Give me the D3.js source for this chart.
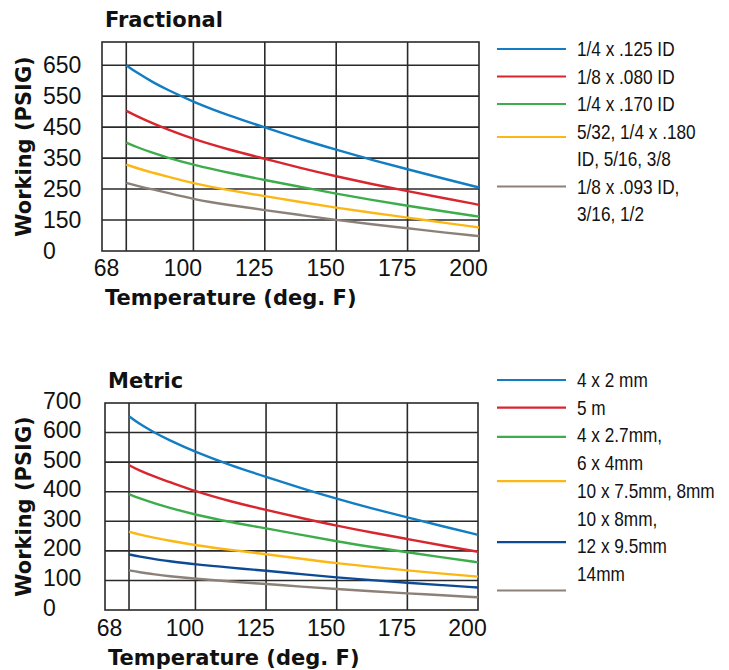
<!DOCTYPE html>
<html><head><meta charset="utf-8">
<script src="https://cdn.jsdelivr.net/npm/d3@7"></script>
<style>
body{margin:0;background:#fff;}
.tick text{font-family:"Liberation Sans",Arial,sans-serif;font-size:23px;fill:#111;}
.title{font-family:"DejaVu Sans",sans-serif;font-weight:bold;font-size:21px;fill:#111;}
.leg{font-family:"Liberation Sans",Arial,sans-serif;font-size:21px;fill:#111;}
</style></head><body>
<svg id="c" width="729" height="670"></svg>
<script>
// ---- data ----
const temps = [76.5, 80, 86, 90, 100, 112.5, 125, 137.5, 150, 162.5, 175, 187.5, 200];
const xTicks = [68, 100, 125, 150, 175, 200];
const fracYTicks = [0, 150, 250, 350, 450, 550, 650];
const metYTicks = [0, 100, 200, 300, 400, 500, 600, 700];

const frac_125ID  = [650, 627, 594, 575, 531, 487, 449, 411, 377, 344, 314, 284, 255];
const frac_080ID  = [503, 486, 461, 446, 411, 377, 348, 318, 291, 266, 243, 221, 199];
const frac_170ID  = [400, 386, 366, 354, 328, 302, 279, 257, 235, 215, 196, 178, 161];
const frac_180ID  = [329, 318, 302, 293, 268, 246, 227, 208, 190, 173, 158, 137, 114];
const frac_093ID  = [270, 261, 248, 240, 217, 198, 182, 166, 150, 129, 110, 90, 72];

const met_4x2     = [655, 630, 597, 578, 534, 489, 450, 412, 376, 343, 313, 283, 254];
const met_5       = [490, 472, 449, 436, 401, 367, 338, 311, 285, 262, 240, 218, 197];
const met_4x27    = [392, 378, 359, 348, 322, 297, 276, 254, 232, 213, 195, 178, 161];
const met_10x75   = [265, 255, 243, 236, 219, 203, 189, 173, 158, 146, 134, 123, 113];
const met_10x8    = [188, 181, 171, 166, 154, 143, 133, 121, 110, 101, 92, 84, 76];
const met_14      = [134, 128, 120, 115, 106, 96, 88, 79, 71, 63, 56, 50, 43];

const fracLabels = [["1/4 x .125 ID"], ["1/8 x .080 ID"], ["1/4 x .170 ID"],
                    ["5/32, 1/4 x .180", "ID, 5/16, 3/8"], ["1/8 x .093 ID,", "3/16, 1/2"]];
const metLabels  = ["4 x 2 mm", "5 m", "4 x 2.7mm,", "6 x 4mm", "10 x 7.5mm, 8mm", "10 x 8mm,", "12 x 9.5mm", "14mm"];

const colors = {blue:"#127dc2", red:"#d8262f", green:"#3cad4a", yellow:"#fdb714", taupe:"#8b8178", navy:"#0c4a96"};

const fracSeries = [
  {values: frac_125ID, color: colors.blue},
  {values: frac_080ID, color: colors.red},
  {values: frac_170ID, color: colors.green},
  {values: frac_180ID, color: colors.yellow},
  {values: frac_093ID, color: colors.taupe}
];
const metSeries = [
  {values: met_4x2, color: colors.blue},
  {values: met_5, color: colors.red},
  {values: met_4x27, color: colors.green},
  {values: met_10x75, color: colors.yellow},
  {values: met_10x8, color: colors.navy},
  {values: met_14, color: colors.taupe}
];

// ---- drawing ----
const svg = d3.select("#c");

function drawChart(o) {
  const g = svg.append("g");
  const x = d3.scaleLinear().domain([68, 200]).range([o.left, o.right]);
  const y = o.y;
  g.append("text").attr("class","title").attr("x", o.left + 3).attr("y", o.top - o.titleGap).text(o.title);
  g.selectAll(".vg").data(o.gridX).join("line")
    .attr("x1", d => x(d)).attr("x2", d => x(d)).attr("y1", o.top).attr("y2", o.bottom)
    .attr("stroke", "#2a2a2a").attr("stroke-width", 1.6);
  g.selectAll(".hg").data(o.gridY).join("line")
    .attr("x1", o.left).attr("x2", o.right).attr("y1", d => y(d)).attr("y2", d => y(d))
    .attr("stroke", "#2a2a2a").attr("stroke-width", 1.6);
  g.append("rect").attr("x", o.left).attr("y", o.top).attr("width", o.right - o.left).attr("height", o.bottom - o.top)
    .attr("fill", "none").attr("stroke", "#2a2a2a").attr("stroke-width", 1.6);
  const line = d3.line().x((d, i) => x(temps[i])).y(d => y(d)).curve(d3.curveBasis);
  g.selectAll(".curve").data(o.series).join("path")
    .attr("d", d => line(d.values)).attr("fill", "none").attr("stroke", d => d.color).attr("stroke-width", 2.4);
  const xa = g.append("g").attr("transform", `translate(0,${o.bottom})`)
    .call(d3.axisBottom(x).tickValues(xTicks).tickSize(0).tickPadding(o.xPad).tickFormat(d3.format("d")));
  xa.select(".domain").remove();
  xa.selectAll("text").attr("dx", d => d === 68 ? 4 : -11);
  const ya = g.append("g").attr("transform", `translate(43,${o.yDy})`)
    .call(d3.axisLeft(y).tickValues(o.yTicks).tickSize(0).tickFormat(d3.format("d")));
  ya.select(".domain").remove();
  ya.selectAll("text").attr("x", 0).attr("text-anchor", "start").attr("dy", "0.35em");
  g.append("text").attr("class","title").attr("x", o.left + 3).attr("y", o.bottom + o.xTitleGap).text("Temperature (deg. F)");
  g.append("text").attr("class","title").attr("text-anchor","middle")
    .attr("transform", `translate(31,${(o.top + o.bottom) / 2}) rotate(-90)`).text("Working (PSIG)");
}

const fracTop = 42, fracBottom = 251;
drawChart({
  title: "Fractional", titleGap: 15,
  left: 102, right: 479, top: fracTop, bottom: fracBottom,
  y: d3.scaleLinear().domain([0, 150, 725]).range([fracBottom, fracBottom - 31, fracTop]),
  gridX: [76.5, 100, 125, 150, 175], gridY: [150, 250, 350, 450, 550, 650],
  yTicks: fracYTicks, yDy: -1, xPad: 9, xTitleGap: 54,
  series: fracSeries
});
const metTop = 403, metBottom = 610;
drawChart({
  title: "Metric", titleGap: 15,
  left: 105, right: 478, top: metTop, bottom: metBottom,
  y: d3.scaleLinear().domain([0, 700]).range([metBottom, metTop]),
  gridX: [76.5, 100, 125, 150, 175], gridY: [100, 200, 300, 400, 500, 600],
  yTicks: metYTicks, yDy: -3, xPad: 10, xTitleGap: 55,
  series: metSeries
});

function legend(x0, y0, step, lines, swatches) {
  const g = svg.append("g");
  g.selectAll("text").data(lines).join("text").attr("class","leg")
    .attr("transform", (d, i) => `translate(${x0 + 80},${y0 + i * step}) scale(0.82,1)`).text(d => d);
  g.selectAll("line").data(swatches).join("line")
    .attr("x1", x0).attr("x2", x0 + 69)
    .attr("y1", d => y0 + d.row * step - 7).attr("y2", d => y0 + d.row * step - 7)
    .attr("stroke", d => d.color).attr("stroke-width", 2.2);
}
legend(497, 56, 27.5, fracLabels.flat(), [
  {row: 0, color: colors.blue}, {row: 1, color: colors.red}, {row: 2, color: colors.green},
  {row: 3.2, color: colors.yellow}, {row: 5, color: colors.taupe}]);
legend(497, 387, 27.7, metLabels, [
  {row: 0, color: colors.blue}, {row: 1, color: colors.red}, {row: 2.05, color: colors.green},
  {row: 3.65, color: colors.yellow}, {row: 5.85, color: colors.navy}, {row: 7.6, color: colors.taupe}]);
</script>
</body></html>
